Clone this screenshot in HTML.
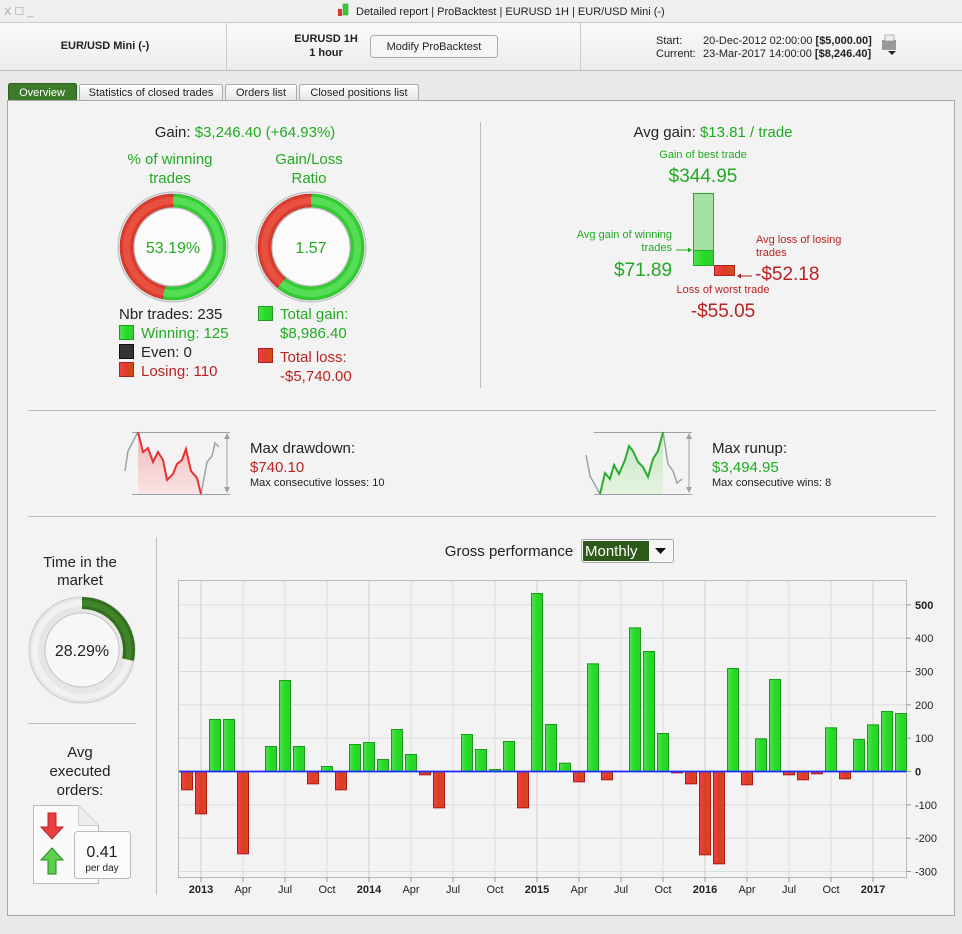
<!DOCTYPE html>
<html><head><meta charset="utf-8"><style>
body{margin:0;width:962px;height:929px;overflow:hidden;background:#e9e9e9;font-family:"Liberation Sans",Arial,sans-serif}
svg text{font-family:"Liberation Sans",Arial,sans-serif}
</style></head><body>
<svg id="s" width="962" height="929" xmlns="http://www.w3.org/2000/svg">
<defs>
<linearGradient id="hdr" x1="0" y1="0" x2="0" y2="1"><stop offset="0" stop-color="#fafafa"/><stop offset="1" stop-color="#ececec"/></linearGradient>
<linearGradient id="gb" x1="0" y1="0" x2="1" y2="0"><stop offset="0" stop-color="#55e055"/><stop offset="0.5" stop-color="#22dd22"/><stop offset="1" stop-color="#33cc33"/></linearGradient>
<linearGradient id="rb" x1="0" y1="0" x2="1" y2="0"><stop offset="0" stop-color="#ee4444"/><stop offset="0.5" stop-color="#dd3a2a"/><stop offset="1" stop-color="#cc5511"/></linearGradient>
<linearGradient id="tab" x1="0" y1="0" x2="0" y2="1"><stop offset="0" stop-color="#fefefe"/><stop offset="1" stop-color="#e6e6e6"/></linearGradient>
<linearGradient id="rf" x1="0" y1="0" x2="0" y2="1"><stop offset="0" stop-color="#f0b8b8"/><stop offset="1" stop-color="#f8e4e4"/></linearGradient>
<linearGradient id="gf" x1="0" y1="0" x2="0" y2="1"><stop offset="0" stop-color="#c4e6c0"/><stop offset="1" stop-color="#e4f4e2"/></linearGradient>
</defs>
<rect x="0" y="0" width="962" height="22" fill="#efefef"/>
<line x1="0" y1="22.5" x2="962" y2="22.5" stroke="#c8c8c8"/>
<text x="4" y="15" font-size="11" fill="#aaa">X ☐ _</text>
<rect x="338" y="9" width="4" height="7" fill="#d33"/><rect x="343" y="4" width="5" height="11" fill="#3c3" stroke="#292" stroke-width="0.5"/>
<text x="356" y="15" font-size="11" fill="#222">Detailed report | ProBacktest | EURUSD 1H | EUR/USD Mini (-)</text>
<rect x="0" y="23" width="962" height="47" fill="url(#hdr)"/>
<line x1="0" y1="70.5" x2="962" y2="70.5" stroke="#bdbdbd"/>
<line x1="226.5" y1="23" x2="226.5" y2="70" stroke="#ccc"/><line x1="580.5" y1="23" x2="580.5" y2="70" stroke="#ccc"/>
<text x="105" y="49" font-size="11" font-weight="bold" text-anchor="middle" fill="#222">EUR/USD Mini (-)</text>
<text x="326" y="42" font-size="11" font-weight="bold" text-anchor="middle" fill="#222">EURUSD 1H</text>
<text x="326" y="56" font-size="11" font-weight="bold" text-anchor="middle" fill="#222">1 hour</text>
<rect x="370.5" y="35.5" width="127" height="22" rx="3" fill="#f6f6f6" stroke="#aaa"/>
<text x="434" y="50" font-size="11" text-anchor="middle" fill="#222">Modify ProBacktest</text>
<text x="656" y="44" font-size="11" fill="#222">Start:</text><text x="703" y="44" font-size="11" fill="#222">20-Dec-2012 02:00:00 <tspan font-weight="bold">[$5,000.00]</tspan></text>
<text x="656" y="57" font-size="11" fill="#222">Current:</text><text x="703" y="57" font-size="11" fill="#222">23-Mar-2017 14:00:00 <tspan font-weight="bold">[$8,246.40]</tspan></text>
<rect x="882" y="40" width="14" height="10" fill="#999"/><rect x="885" y="35" width="9" height="6" fill="#eee" stroke="#888" stroke-width="0.6"/><path d="M888 51h8l-4 4z" fill="#222"/>
<rect x="8.5" y="83.5" width="68" height="17" rx="2" fill="#3d7a2a" stroke="#2e5e1e"/>
<text x="42" y="96" font-size="11" text-anchor="middle" fill="#fff">Overview</text>
<rect x="79.5" y="84.5" width="143" height="16" rx="2" fill="url(#tab)" stroke="#aaa"/><text x="151" y="96" font-size="11" text-anchor="middle" fill="#222">Statistics of closed trades</text>
<rect x="225.5" y="84.5" width="71" height="16" rx="2" fill="url(#tab)" stroke="#aaa"/><text x="261" y="96" font-size="11" text-anchor="middle" fill="#222">Orders list</text>
<rect x="299.5" y="84.5" width="119" height="16" rx="2" fill="url(#tab)" stroke="#aaa"/><text x="359" y="96" font-size="11" text-anchor="middle" fill="#222">Closed positions list</text>
<rect x="7.5" y="100.5" width="947" height="815" fill="#f3f3f3" stroke="#a8a8a8"/>
<line x1="480.5" y1="122" x2="480.5" y2="388" stroke="#bbb"/>
<line x1="28" y1="410.5" x2="936" y2="410.5" stroke="#bbb"/>
<line x1="28" y1="516.5" x2="936" y2="516.5" stroke="#bbb"/>
<line x1="156.5" y1="537" x2="156.5" y2="895" stroke="#bbb"/>
<line x1="28" y1="723.5" x2="136" y2="723.5" stroke="#bbb"/>

<text x="245" y="137" font-size="15" text-anchor="middle" fill="#222">Gain: <tspan fill="#22aa22">$3,246.40 (+64.93%)</tspan></text>
<text x="170" y="164" font-size="15" text-anchor="middle" fill="#22aa22">% of winning</text>
<text x="170" y="183" font-size="15" text-anchor="middle" fill="#22aa22">trades</text>
<text x="309" y="164" font-size="15" text-anchor="middle" fill="#22aa22">Gain/Loss</text>
<text x="309" y="183" font-size="15" text-anchor="middle" fill="#22aa22">Ratio</text>
<g id="d1"></g>
<text x="173" y="253" font-size="16" text-anchor="middle" fill="#22aa22">53.19%</text>
<text x="311" y="253" font-size="16" text-anchor="middle" fill="#22aa22">1.57</text>
<text x="119" y="319" font-size="15" fill="#222">Nbr trades: 235</text>
<rect x="119.5" y="325.5" width="14" height="14" fill="url(#gb)" stroke="#292"/><text x="141" y="338" font-size="15" fill="#22aa22">Winning: 125</text>
<rect x="119.5" y="344.5" width="14" height="14" fill="#333" stroke="#111"/><text x="141" y="357" font-size="15" fill="#222">Even: 0</text>
<rect x="119.5" y="362.5" width="14" height="14" fill="url(#rb)" stroke="#a22"/><text x="141" y="376" font-size="15" fill="#bb2222">Losing: 110</text>
<rect x="258.5" y="306.5" width="14" height="14" fill="url(#gb)" stroke="#292"/><text x="280" y="319" font-size="15" fill="#22aa22">Total gain:</text>
<text x="280" y="338" font-size="15" fill="#22aa22">$8,986.40</text>
<rect x="258.5" y="348.5" width="14" height="14" fill="url(#rb)" stroke="#a22"/><text x="280" y="362" font-size="15" fill="#bb2222">Total loss:</text>
<text x="280" y="381" font-size="15" fill="#bb2222">-$5,740.00</text>

<text x="713" y="137" font-size="15" text-anchor="middle" fill="#222">Avg gain: <tspan fill="#22aa22">$13.81 / trade</tspan></text>
<text x="703" y="158" font-size="11" text-anchor="middle" fill="#22aa22">Gain of best trade</text>
<text x="703" y="182" font-size="19" text-anchor="middle" fill="#22aa22">$344.95</text>
<rect x="693.5" y="193.5" width="20" height="57" fill="#a6e0a2" stroke="#2a2"/>
<rect x="693.5" y="250.5" width="20" height="15" fill="url(#gb)" stroke="#2a2"/>
<rect x="714.5" y="265.5" width="20" height="10" fill="url(#rb)" stroke="#a22"/>
<text x="672" y="238" font-size="11" text-anchor="end" fill="#22aa22">Avg gain of winning</text>
<text x="672" y="251" font-size="11" text-anchor="end" fill="#22aa22">trades</text>
<line x1="676" y1="250" x2="690" y2="250" stroke="#2a2"/><path d="M692 250l-4-2.5v5z" fill="#2a2"/>
<text x="643" y="276" font-size="19" text-anchor="middle" fill="#22aa22">$71.89</text>
<text x="756" y="243" font-size="11" fill="#bb2222">Avg loss of losing</text>
<text x="756" y="256" font-size="11" fill="#bb2222">trades</text>
<line x1="740" y1="276" x2="752" y2="276" stroke="#a22"/><path d="M737 276l4-2.5v5z" fill="#a22"/>
<text x="755" y="280" font-size="19" fill="#bb2222">-$52.18</text>
<text x="723" y="293" font-size="11" text-anchor="middle" fill="#bb2222">Loss of worst trade</text>
<text x="723" y="317" font-size="19" text-anchor="middle" fill="#bb2222">-$55.05</text>

<polygon points="138,432 143,452 148,448 153,462 158,452 163,460 167,480 173,474 177,464 182,460 186,449 191,471 197,478 201,494 138,494" fill="url(#rf)"/>
<line x1="132" y1="432.5" x2="230" y2="432.5" stroke="#99a4aa"/><line x1="132" y1="494.5" x2="230" y2="494.5" stroke="#99a4aa"/>
<polyline points="125,471 128,451 138,432" fill="none" stroke="#99a4aa" stroke-width="1.5"/>
<polyline points="201,494 207,462 212,456 215,443 219,447" fill="none" stroke="#99a4aa" stroke-width="1.5"/>
<polyline points="138,432 143,452 148,448 153,462 158,452 163,460 167,480 173,474 177,464 182,460 186,449 191,471 197,478 201,494" fill="none" stroke="#e83030" stroke-width="2"/>
<line x1="227" y1="436" x2="227" y2="490" stroke="#99a4aa"/><path d="M227 433l-3 6h6zM227 493l-3-6h6z" fill="#99a4aa"/>
<text x="250" y="453" font-size="15" fill="#222">Max drawdown:</text>
<text x="250" y="472" font-size="15" fill="#bb2222">$740.10</text>
<text x="250" y="486" font-size="11" fill="#222">Max consecutive losses: 10</text>
<polygon points="600,494 605,473 610,479 614,465 619,474 625,460 629,446 633,451 638,462 643,467 648,477 653,459 658,451 663,432 663,494" fill="url(#gf)"/>
<line x1="594" y1="432.5" x2="692" y2="432.5" stroke="#99a4aa"/><line x1="594" y1="494.5" x2="692" y2="494.5" stroke="#99a4aa"/>
<polyline points="586,455 590,476 600,494" fill="none" stroke="#99a4aa" stroke-width="1.5"/>
<polyline points="663,432 668,464 673,471 677,483 682,479" fill="none" stroke="#99a4aa" stroke-width="1.5"/>
<polyline points="600,494 605,473 610,479 614,465 619,474 625,460 629,446 633,451 638,462 643,467 648,477 653,459 658,451 663,432" fill="none" stroke="#2eaa2e" stroke-width="2"/>
<line x1="689" y1="436" x2="689" y2="490" stroke="#99a4aa"/><path d="M689 433l-3 6h6zM689 493l-3-6h6z" fill="#99a4aa"/>
<text x="712" y="453" font-size="15" fill="#222">Max runup:</text>
<text x="712" y="472" font-size="15" fill="#22aa22">$3,494.95</text>
<text x="712" y="486" font-size="11" fill="#222">Max consecutive wins: 8</text>

<text x="80" y="567" font-size="15" text-anchor="middle" fill="#222">Time in the</text>
<text x="80" y="585" font-size="15" text-anchor="middle" fill="#222">market</text>
<circle cx="82" cy="650" r="53" fill="#e6e6e6" stroke="#c8c8c8"/>
<circle cx="82" cy="650" r="47" fill="none" stroke="#f1f1f1" stroke-width="6"/>
<circle cx="82" cy="650" r="37" fill="#f7f7f7" stroke="#c4c4c4"/>
<g id="d2"></g>
<text x="82" y="656" font-size="16" text-anchor="middle" fill="#222">28.29%</text>
<text x="80" y="757" font-size="15" text-anchor="middle" fill="#222">Avg</text>
<text x="80" y="776" font-size="15" text-anchor="middle" fill="#222">executed</text>
<text x="80" y="795" font-size="15" text-anchor="middle" fill="#222">orders:</text>
<path d="M33.5 805.5h45l20 20v58h-65z" fill="#fafafa" stroke="#bbb"/>
<path d="M78.5 805.5v20h20" fill="#eee" stroke="#ccc"/>
<path d="M48 813h8v14h7l-11 12-11-12h7z" fill="#e84040" stroke="#b22"/>
<path d="M52 848l11 12h-7v14h-8v-14h-7z" fill="#5ccf4c" stroke="#282"/>
<rect x="74.5" y="831.5" width="56" height="47" rx="3" fill="#fbfbfb" stroke="#bbb"/>
<text x="102" y="857" font-size="16" text-anchor="middle" fill="#222">0.41</text>
<text x="102" y="871" font-size="10" text-anchor="middle" fill="#222">per day</text>

<text x="509" y="556" font-size="15" text-anchor="middle" fill="#222">Gross performance</text>
<rect x="581.5" y="539.5" width="92" height="23" rx="2" fill="#f6f6f6" stroke="#aaa"/>
<rect x="583" y="541" width="66" height="20" fill="#2d5a1a"/>
<text x="585" y="556" font-size="15" fill="#fff">Monthly</text>
<path d="M655 548h11l-5.5 6z" fill="#111"/>
<rect x="178.5" y="580.5" width="728" height="297" fill="#f3f3f3" stroke="#bbb"/>
<g id="chart"></g>
</svg>
<script>
var NS="http://www.w3.org/2000/svg";
function el(p,t,a,txt){var e=document.createElementNS(NS,t);for(var k in a)e.setAttribute(k,a[k]);if(txt!=null)e.textContent=txt;p.appendChild(e);return e;}
function arc(cx,cy,r1,r2,a0,a1){var f=function(r,a){a=(a-90)*Math.PI/180;return [cx+r*Math.cos(a),cy+r*Math.sin(a)];};
var l=(a1-a0)>180?1:0,p1=f(r2,a0),p2=f(r2,a1),p3=f(r1,a1),p4=f(r1,a0);
return "M"+p1+"A"+r2+","+r2+" 0 "+l+" 1 "+p2+"L"+p3+"A"+r1+","+r1+" 0 "+l+" 0 "+p4+"Z";}
var d1=document.getElementById("d1");
[[173,0.5319],[311,0.61]].forEach(function(c){
el(d1,"circle",{cx:c[0],cy:247,r:55,fill:"#e4e4e4",stroke:"#bbb"});
var g=c[1]*360;
el(d1,"path",{d:arc(c[0],247,40,53,0,g),fill:"#33cc33",stroke:"#2a2","stroke-width":0.5});
el(d1,"path",{d:arc(c[0],247,40,53,g,359.99),fill:"#dd3b2e",stroke:"#a22","stroke-width":0.5});
el(d1,"path",{d:arc(c[0],247,43,50,0,g),fill:"#55dd55"});
el(d1,"path",{d:arc(c[0],247,43,50,g,359.99),fill:"#e85040"});
el(d1,"circle",{cx:c[0],cy:247,r:39,fill:"#fbfbfb",stroke:"#bbb"});});
var d2=document.getElementById("d2");
el(d2,"path",{d:arc(82,650,41,53,0,0.2829*360),fill:"#336e1e"});
el(d2,"path",{d:arc(82,650,44,50,0,0.2829*360),fill:"#3f8428"});
var ch=document.getElementById("chart");
var z=771.5,s=0.3333;
for(var v=-300;v<=500;v+=100){var y=z-v*s;el(ch,"line",{x1:179,x2:906,y1:y,y2:y,stroke:"#dcdcdc"});
el(ch,"line",{x1:906,x2:911,y1:y,y2:y,stroke:"#999"});
el(ch,"text",{x:915,y:y+4,"font-size":11,fill:"#222","font-weight":v==0||v==500?"bold":"normal"},v);}
var lab=["2013","Apr","Jul","Oct","2014","Apr","Jul","Oct","2015","Apr","Jul","Oct","2016","Apr","Jul","Oct","2017"];
for(var k=0;k<17;k++){var x=201+k*42;el(ch,"line",{x1:x,x2:x,y1:581,y2:877,stroke:k%4==0?"#cfcfcf":"#dedede"});
el(ch,"line",{x1:x,x2:x,y1:877,y2:882,stroke:"#999"});
el(ch,"text",{x:x,y:893,"font-size":11,"text-anchor":"middle",fill:"#222","font-weight":k%4==0?"bold":"normal"},lab[k]);}
var vals=[-55,-127,156,156,-247,0,75,273,75,-37,15,-55,81,87,36,126,51,-10,-109,0,111,66,6,90,-109,534,141,25,-31,323,-25,0,431,360,114,-4,-37,-250,-277,309,-40,98,276,-10,-25,-7,131,-22,96,140,180,174];
vals.forEach(function(v,i){if(!v)return;var x=187+i*14-5.5,h=Math.abs(v)*s,y=v>0?z-h:z;
el(ch,"rect",{x:x,y:y,width:11,height:h,fill:v>0?"url(#gb)":"url(#rb)",stroke:v>0?"#1a9a1a":"#b01818","stroke-width":1});});
el(ch,"line",{x1:179,x2:906,y1:z,y2:z,stroke:"#1a2cff","stroke-width":1.8});
</script>
</body></html>
